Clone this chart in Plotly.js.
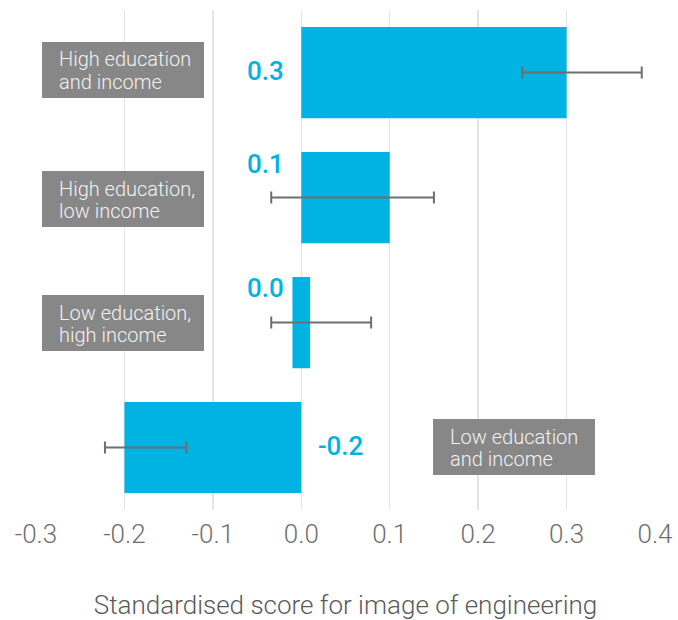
<!DOCTYPE html>
<html>
<head>
<meta charset="utf-8">
<script src="https://cdn.plot.ly/plotly-3.0.1.min.js"></script>
<style>html,body{margin:0;padding:0;background:#fff}#chart{width:678px;height:620px}</style>
</head>
<body>
<div id="chart"></div>
<script>
// ---- data ----
const categories = ['High education and income', 'High education, low income', 'Low education, high income', 'Low education and income'];
const boxLines = [
  ['High education', 'and income'],
  ['High education,', 'low income'],
  ['Low education,', 'high income'],
  ['Low education', 'and income']
];
const scores = [0.3, 0.1, 0.0, -0.2];
const barStart = [0, 0, -0.01, 0];
const barEnd = [0.3, 0.1, 0.01, -0.2];
const ciLow = [0.25, -0.034, -0.034, -0.222];
const ciHigh = [0.385, 0.15, 0.079, -0.13];
const xTicks = [-0.3, -0.2, -0.1, 0.0, 0.1, 0.2, 0.3, 0.4];
const xTickText = ['-0.3', '-0.2', '-0.1', '0.0', '0.1', '0.2', '0.3', '0.4'];

// ---- style ----
const cyan = '#00b3e3';
const errColor = '#6e6e6e';
const boxColor = '#878787';
const lightFont = "'Roboto Light', Roboto, sans-serif";

const barTrace = {
  type: 'bar', orientation: 'h',
  y: categories,
  x: barEnd.map((e, i) => e - barStart[i]),
  base: barStart,
  marker: {color: cyan, line: {width: 0}},
  hoverinfo: 'skip', showlegend: false
};
const errTrace = {
  type: 'scatter', mode: 'markers',
  y: categories, x: scores,
  marker: {size: 1, color: 'rgba(0,0,0,0)'},
  error_x: {
    type: 'data', symmetric: false,
    array: ciHigh.map((h, i) => h - scores[i]),
    arrayminus: ciLow.map((l, i) => scores[i] - l),
    color: errColor, thickness: 2, width: 6
  },
  hoverinfo: 'skip', showlegend: false
};

// plot area in pixels: x 36..655, y 10..510
const L = 36, W = 619, T = 10, H = 500;
const px = v => (v - L) / W;
const py = v => 1 - (v - T) / H;
const boxes = [
  {x0: 42, x1: 204, y0: 42, y1: 98, tx: 57},
  {x0: 42, x1: 204, y0: 171, y1: 227, tx: 57},
  {x0: 42, x1: 204, y0: 295, y1: 351, tx: 57},
  {x0: 433, x1: 595, y0: 419, y1: 475, tx: 448}
];
const shapes = boxes.map(b => ({
  type: 'rect', xref: 'paper', yref: 'paper', layer: 'above',
  x0: px(b.x0), x1: px(b.x1), y0: py(b.y1), y1: py(b.y0),
  fillcolor: boxColor, line: {width: 0}
}));
const annotations = [];
boxes.forEach((b, i) => {
  const mid = (b.y0 + b.y1) / 2;
  boxLines[i].forEach((line, j) => {
    annotations.push({
      xref: 'paper', yref: 'paper', x: px(b.tx), y: py(mid + (j === 0 ? -11.5 : 11) + 1),
      xanchor: 'left', yanchor: 'middle', align: 'left', showarrow: false,
      text: line,
      font: {family: lightFont, size: 20, color: '#f2f2f2', weight: 300}
    });
  });
});
const valOffsets = [
  {anchor: 'right', xs: -15, ys: 2},
  {anchor: 'right', xs: -15, ys: 34},
  {anchor: 'right', xs: -15, ys: 35},
  {anchor: 'left', xs: 15, ys: 2}
];
scores.forEach((s, i) => {
  annotations.push({
    xref: 'x', yref: 'y', x: 0, y: categories[i],
    xanchor: valOffsets[i].anchor, yanchor: 'middle',
    xshift: valOffsets[i].xs, yshift: valOffsets[i].ys,
    showarrow: false, text: s.toFixed(1),
    font: {family: "'Roboto Medium', Roboto, sans-serif", size: 26, color: cyan, weight: 500}
  });
});

const layout = {
  width: 678, height: 620,
  margin: {l: L, r: 678 - L - W, t: T, b: 620 - T - H},
  paper_bgcolor: '#fff', plot_bgcolor: '#fff',
  bargap: 0.27,
  showlegend: false,
  xaxis: {
    range: [-0.3, 0.4], tickvals: xTicks, ticktext: xTickText,
    showgrid: true, gridcolor: '#e3e3e3', gridwidth: 1.5,
    zeroline: false, showline: false, ticks: '',
    ticklabelstandoff: 6,
    tickfont: {family: lightFont, size: 26, color: '#6e6e6e', weight: 300},
    title: {text: 'Standardised score for image of engineering', standoff: 50,
            font: {family: lightFont, size: 26, color: '#5a5a5a', weight: 300}},
    automargin: false, fixedrange: true
  },
  yaxis: {
    type: 'category', categoryorder: 'array', categoryarray: categories,
    range: [3.5, -0.5], showticklabels: false, showgrid: false,
    zeroline: false, showline: false, ticks: '', fixedrange: true
  },
  shapes: shapes,
  annotations: annotations
};

Plotly.newPlot('chart', [barTrace, errTrace], layout, {displayModeBar: false, staticPlot: true});
</script>
</body>
</html>
